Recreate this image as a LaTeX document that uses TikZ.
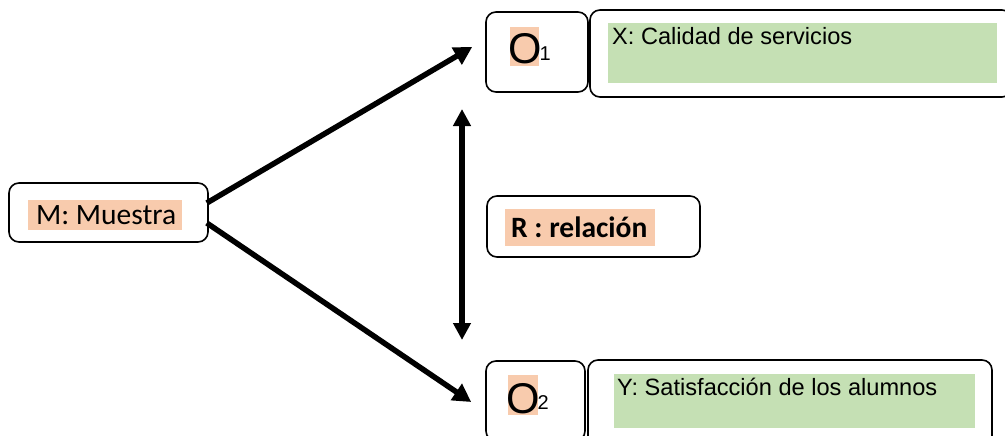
\documentclass[tikz,border=0pt]{standalone}
\usepackage{fontspec}
\setmainfont{Liberation Sans}
\newfontfamily\calibri{Carlito}
\usetikzlibrary{arrows.meta}
\definecolor{hl}{RGB}{248,203,173}
\definecolor{gr}{RGB}{197,224,180}
\begin{document}
\begin{tikzpicture}[x=1pt,y=-1pt,
  box/.style={draw, rounded corners=10pt, line width=1.6pt, inner sep=0pt},
  hlbox/.style={fill=hl, inner sep=0pt},
  grbox/.style={fill=gr, inner sep=0pt},
  txt/.style={inner sep=0pt, anchor=base west},
  arr/.style={line width=5.5pt, -{Triangle[width=19pt,length=18pt]}},
  darr/.style={line width=6pt, {Triangle[width=17pt,length=17pt]}-{Triangle[width=17pt,length=17pt]}}]
\useasboundingbox (0,0) rectangle (1005,436);
\clip (0,0) rectangle (1005,436);
\fill[white] (0,0) rectangle (1005,436);
% boxes
\node[box, minimum width=102pt, minimum height=80pt] (o1) at (537,52) {};
\node[box, minimum width=422pt, minimum height=87pt] (x) at (801,53.5) {};
\node[box, minimum width=199pt, minimum height=59pt] (m) at (108.5,212.5) {};
\node[box, minimum width=213pt, minimum height=61pt] (r) at (593.5,226.5) {};
\node[box, minimum width=99pt, minimum height=80pt] (o2) at (535.5,401) {};
\node[box, minimum width=404pt, minimum height=87pt] (y) at (790,403.5) {};
% fills
\node[grbox, minimum width=389pt, minimum height=60pt] (xg) at (802.5,53) {};
\node[grbox, minimum width=361pt, minimum height=54pt] (yg) at (794.5,401) {};
\node[hlbox, minimum width=154pt, minimum height=30pt] (mh) at (105,215) {};
\node[hlbox, minimum width=150pt, minimum height=37pt] (rh) at (580,227.5) {};
\node[hlbox, minimum width=29pt, minimum height=39pt] (o1h) at (524.5,46.5) {};
\node[hlbox, minimum width=30pt, minimum height=40pt] (o2h) at (523,395) {};
% texts
\node[txt] (o1t) at (508,64) {\fontsize{43}{43}\selectfont O};
\node[txt] (o1s) at (539.5,61) {\fontsize{20}{20}\selectfont 1};
\node[txt] (o2t) at (506,413) {\fontsize{43}{43}\selectfont O};
\node[txt] (o2s) at (537.5,409) {\fontsize{20}{20}\selectfont 2};
\node[txt] (xt) at (612,45) {\fontsize{23.6}{24}\selectfont X: Calidad de servicios};
\node[txt] (yt) at (617,395) {\fontsize{23.6}{24}\selectfont Y: Satisfacción de los alumnos};
\node[txt] (mt) at (36,224) {\calibri\fontsize{29.5}{30}\selectfont M: Muestra};
\node[txt] (rt) at (511,237) {\calibri\bfseries\fontsize{29.5}{30}\selectfont R : relación};
% arrows
\coordinate (t1) at ([xshift=-13pt,yshift=5pt]o1.west);
\coordinate (t2) at ([xshift=-14pt,yshift=-1pt]o2.west);
\coordinate (va) at (462,109);
\coordinate (vb) at (462,340);
\draw[arr] ([xshift=-2pt,yshift=9.5pt]m.east) -- (t1);
\draw[arr] ([xshift=-2pt,yshift=-10.5pt]m.east) -- (t2);
\draw[darr] (va) -- (vb);
\end{tikzpicture}
\end{document}
